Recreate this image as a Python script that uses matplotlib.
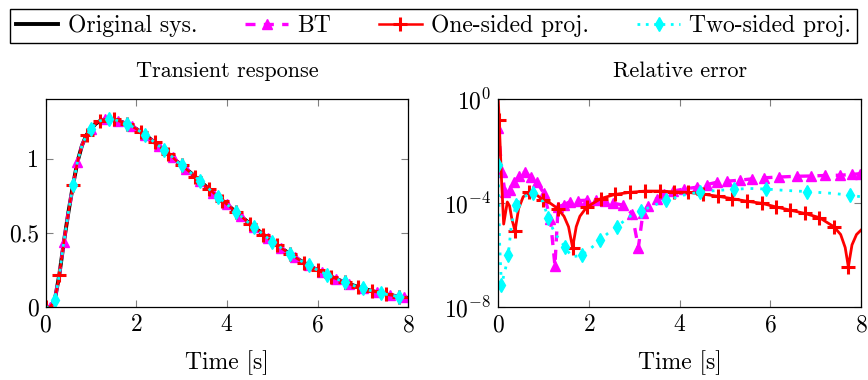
import numpy as np
import matplotlib
matplotlib.use('Agg')
import matplotlib.pyplot as plt

plt.rcParams['font.family'] = ['cmr10', 'DejaVu Serif']
plt.rcParams['mathtext.fontset'] = 'cm'
plt.rcParams['axes.formatter.use_mathtext'] = True
plt.rcParams['font.size'] = 17

# transient response (0.1 s grid)
t_resp = np.round(np.arange(0, 8.01, 0.1), 2)
y_resp = [0.0, 0.003, 0.05, 0.22, 0.44, 0.64, 0.82, 0.98, 1.09, 1.16,
          1.20, 1.235, 1.255, 1.265, 1.268, 1.265, 1.255, 1.245, 1.232, 1.218,
          1.20, 1.18, 1.16, 1.135, 1.11, 1.085, 1.06, 1.035, 1.01, 0.98,
          0.955, 0.93, 0.905, 0.878, 0.85, 0.823, 0.797, 0.77, 0.745, 0.718,
          0.692, 0.666, 0.64, 0.614, 0.589, 0.564, 0.54, 0.515, 0.49, 0.465,
          0.442, 0.42, 0.398, 0.377, 0.356, 0.337, 0.318, 0.30, 0.283, 0.266,
          0.25, 0.235, 0.22, 0.206, 0.193, 0.18, 0.168, 0.157, 0.146, 0.136,
          0.127, 0.118, 0.11, 0.102, 0.095, 0.088, 0.082, 0.077, 0.072, 0.067,
          0.063]

# relative errors (log10 values)
t_one = [0.0, 0.02, 0.07, 0.12, 0.2, 0.25, 0.3, 0.37, 0.45, 0.55, 0.68, 0.85,
         0.99, 1.15, 1.31, 1.45, 1.55, 1.64, 1.72, 1.8, 1.95, 2.26, 2.57, 2.9,
         3.24, 3.57, 3.88, 4.19, 4.52, 4.85, 5.15, 5.48, 5.81, 6.125, 6.43,
         6.76, 7.08, 7.4, 7.55, 7.65, 7.72, 7.8, 7.9, 8.0]
e_one = [0.0, -0.78, -3.0, -4.8, -3.95, -4.1, -4.6, -5.06, -4.2, -3.75, -3.58,
         -3.68, -3.88, -4.0, -4.2, -4.5, -4.9, -5.7, -4.9, -4.5, -4.15, -3.82,
         -3.66, -3.58, -3.53, -3.53, -3.56, -3.58, -3.65, -3.73, -3.82, -3.92,
         -4.0, -4.14, -4.26, -4.39, -4.55, -4.9, -5.2, -5.7, -6.44, -5.6, -5.2,
         -5.03]
mark_one = [1, 7, 10, 12, 14, 17, 20, 21, 22, 23, 24, 25, 26, 27, 28, 29, 30,
            31, 32, 33, 34, 35, 36, 37, 40]

t_bt = [0.0, 0.08, 0.15, 0.25, 0.35, 0.45, 0.59, 0.72, 0.85, 1.0, 1.15, 1.25,
        1.32, 1.45, 1.58, 1.75, 1.95, 2.15, 2.35, 2.54, 2.76, 2.95, 3.09, 3.19,
        3.3, 3.49, 3.65, 3.85, 4.1, 4.38, 4.6, 4.82, 5.05, 5.33, 5.6, 5.85,
        6.2, 6.58, 6.9, 7.2, 7.54, 7.8, 7.98]
e_bt = [-1.1, -2.8, -3.56, -3.5, -3.2, -2.95, -2.8, -3.0, -3.18, -3.6, -4.6,
        -6.4, -4.14, -4.05, -3.94, -3.9, -3.88, -3.88, -3.92, -4.0, -4.07,
        -4.4, -5.7, -4.38, -4.1, -3.82, -3.65, -3.53, -3.45, -3.38, -3.28,
        -3.19, -3.15, -3.11, -3.06, -3.02, -2.99, -2.96, -2.95, -2.93, -2.92,
        -2.89, -2.86]

t_two = [0.0, 0.03, 0.07, 0.15, 0.22, 0.29, 0.39, 0.55, 0.77, 0.99, 1.1, 1.25,
         1.47, 1.62, 1.84, 2.05, 2.24, 2.42, 2.61, 2.94, 3.15, 3.35, 3.71, 4.08,
         4.45, 4.89, 5.2, 5.55, 5.9, 6.29, 6.8, 7.39, 7.76, 8.0]
e_two = [-2.53, -5.5, -7.14, -6.6, -6.0, -4.84, -4.07, -3.75, -3.62, -3.94,
         -4.58, -5.16, -5.67, -6.06, -6.0, -5.72, -5.42, -5.15, -4.9, -4.46,
         -4.3, -4.14, -3.88, -3.69, -3.56, -3.5, -3.46, -3.43, -3.45, -3.5,
         -3.55, -3.62, -3.69, -3.75]

fig = plt.figure(figsize=(8.68, 3.8), dpi=100)
ax1 = fig.add_axes([0.0527, 0.1913, 0.4177, 0.5474])
ax2 = fig.add_axes([0.574, 0.1913, 0.418, 0.5474])

ax1.plot(t_resp, y_resp, color='black', lw=2.8, label='Original sys.')
ax1.plot(t_resp, y_resp, color='magenta', lw=2.4, ls=(0, (3, 2.5)),
         marker='^', ms=7, markevery=(1, 3), label='BT')
ax1.plot(t_resp, y_resp, color='red', lw=1.8, marker='+', ms=10, mew=2.2,
         markevery=(0, 3), label='One-sided proj.')
ax1.plot(t_resp, y_resp, color='cyan', lw=2.0, ls=(0, (1, 2)),
         marker='d', ms=7, markevery=(2, 4), label='Two-sided proj.')
ax1.set_xlim(0, 8)
ax1.set_ylim(0, 1.4)
ax1.set_yticks([0, 0.5, 1])
ax1.set_yticklabels(['0', '0.5', '1'])
ax1.set_title('Transient response', pad=16, fontsize=16)

ax2.plot(t_bt, 10.0 ** np.array(e_bt), color='magenta', lw=2.4,
         ls=(0, (3, 2.5)), marker='^', ms=7)
ax2.plot(t_one, 10.0 ** np.array(e_one), color='red', lw=2.0, marker='+',
         ms=10, mew=2.2, markevery=mark_one)
ax2.plot(t_two, 10.0 ** np.array(e_two), color='cyan', lw=2.0,
         ls=(0, (1, 2.5)), marker='d', ms=7, markevery=list(range(0, 34, 2)))
ax2.set_yscale('log')
ax2.set_xlim(0, 8)
ax2.set_ylim(1e-8, 1)
ax2.set_yticks([1e-8, 1e-4, 1])
ax2.yaxis.set_minor_locator(matplotlib.ticker.NullLocator())
ax2.set_title('Relative error', pad=16, fontsize=16)

for ax in (ax1, ax2):
    ax.set_xticks([0, 2, 4, 6, 8])
    ax.set_xlabel('Time [s]', labelpad=10)
    ax.tick_params(direction='in', top=True, right=True, length=5,
                   width=0.8, color='gray', labelsize=17, pad=5)
    for s in ax.spines.values():
        s.set_linewidth(0.9)

fig.legend(*ax1.get_legend_handles_labels(), loc='lower left', ncol=4,
           mode='expand', bbox_to_anchor=(0.0115, 0.887, 0.976, 0.105),
           frameon=True, fancybox=False, edgecolor='black', framealpha=1,
           handlelength=1.8, handletextpad=0.4, borderpad=0.25,
           borderaxespad=0, fontsize=17)

fig.savefig('out.png', dpi=100)
